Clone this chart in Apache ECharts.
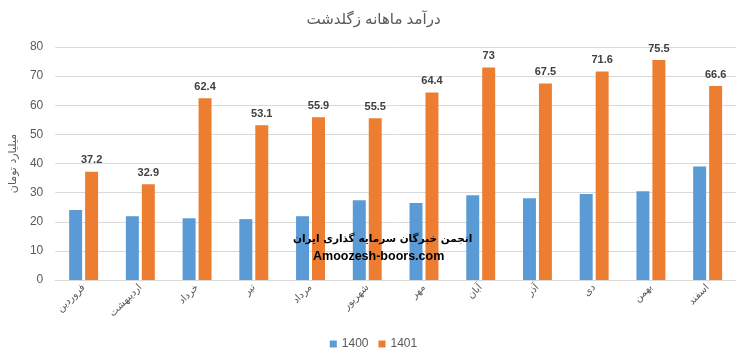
<!DOCTYPE html>
<html><head><meta charset="utf-8">
<script src="https://cdn.jsdelivr.net/npm/echarts@6/dist/echarts.min.js"></script>
<style>html,body{margin:0;padding:0;background:#fff}#c{width:747px;height:361px}</style>
</head><body><div id="c"></div>
<script>
var categories = ['فروردین','اردیبهشت','خرداد','تیر','مرداد','شهریور','مهر','آبان','آذر','دی','بهمن','اسفند'];
var values1400 = [24.0, 21.9, 21.2, 20.9, 21.9, 27.4, 26.4, 29.1, 28.1, 29.5, 30.5, 39.0];
var values1401 = [37.2, 32.9, 62.4, 53.1, 55.9, 55.5, 64.4, 73, 67.5, 71.6, 75.5, 66.6];
var seriesNames = ['1400', '1401'];
var yTicks = {min: 0, max: 80, interval: 10};
var titleText = 'درآمد ماهانه زگلدشت';
var yAxisName = 'میلیارد تومان';
var watermark1 = 'انجمن خبرگان سرمایه گذاری ایران';
var watermark2 = 'Amoozesh-boors.com';

var FONT = '"Liberation Sans", "DejaVu Sans", sans-serif';
var chart = echarts.init(document.getElementById('c'), null, {renderer: 'canvas'});
chart.setOption({
  animation: false,
  backgroundColor: '#fff',
  title: {text: titleText, left: 'center', top: 7,
    textStyle: {fontFamily: FONT, fontSize: 15, fontWeight: 'normal', color: '#595959'}},
  legend: {bottom: 6, left: 'center', itemWidth: 7, itemHeight: 7, itemGap: 10,
    icon: 'rect', textStyle: {fontFamily: FONT, fontSize: 12, color: '#595959'}},
  grid: {left: 54, right: 11, top: 47, bottom: 81, containLabel: false},
  xAxis: {type: 'category', data: categories,
    axisLine: {lineStyle: {color: '#d9d9d9'}}, axisTick: {show: false},
    axisLabel: {rotate: 45, interval: 0, fontFamily: 'DejaVu Sans', fontSize: 10, color: '#595959', margin: 6}},
  yAxis: {type: 'value', min: yTicks.min, max: yTicks.max, interval: yTicks.interval,
    name: yAxisName, nameLocation: 'middle', nameGap: 34, nameRotate: 90,
    nameTextStyle: {fontFamily: 'DejaVu Sans', fontSize: 11, color: '#595959'},
    axisLine: {show: false}, axisTick: {show: false},
    splitLine: {lineStyle: {color: '#d9d9d9'}},
    axisLabel: {fontFamily: FONT, fontSize: 12, color: '#595959', margin: 12}},
  series: [
    {name: seriesNames[0], type: 'bar', data: values1400, itemStyle: {color: '#5b9bd5'},
      barGap: '23%', barCategoryGap: '49%'},
    {name: seriesNames[1], type: 'bar', data: values1401, itemStyle: {color: '#ed7d31'},
      barGap: '23%', barCategoryGap: '49%',
      label: {show: true, position: 'top', distance: 6, fontFamily: FONT, fontSize: 11,
        fontWeight: 'bold', color: '#404040'}}
  ],
  graphic: [
    {type: 'text', left: 293, top: 234, z: 100,
      style: {text: watermark1, font: 'bold 10.5px "DejaVu Sans", sans-serif', fill: '#000'}},
    {type: 'text', left: 313, top: 250, z: 100,
      style: {text: watermark2, font: 'bold 12.5px "Liberation Sans", Arial, sans-serif', fill: '#000'}}
  ]
});
</script></body></html>
